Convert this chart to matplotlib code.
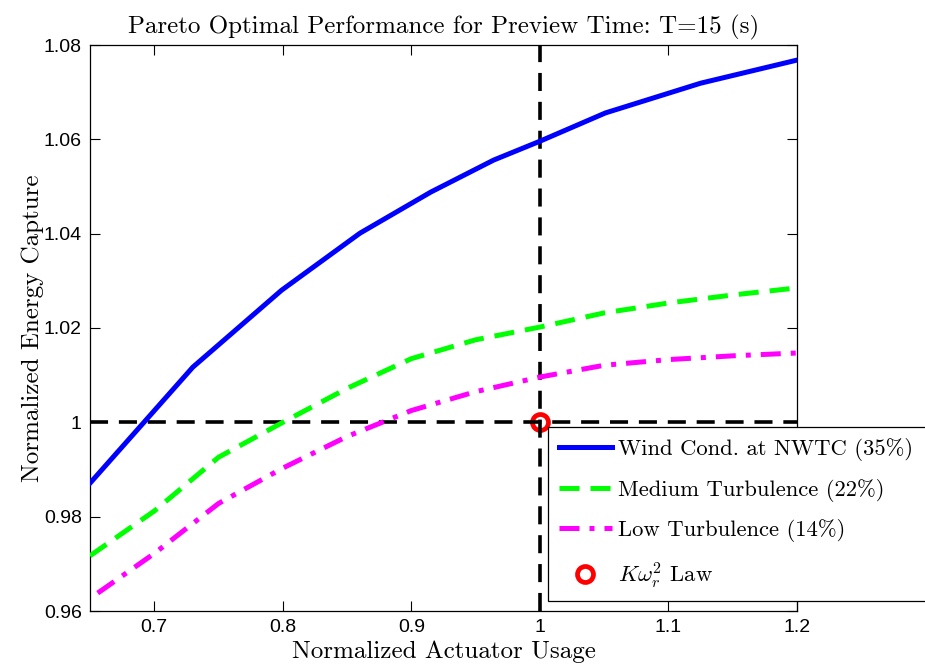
import matplotlib
matplotlib.use("Agg")
import matplotlib.pyplot as plt

plt.rcParams['mathtext.fontset'] = 'cm'
plt.rcParams['axes.unicode_minus'] = False

# data
x_nwtc = [0.65, 0.730, 0.799, 0.860, 0.915, 0.964, 1.0, 1.051, 1.125, 1.2]
y_nwtc = [0.9871, 1.0117, 1.0280, 1.0401, 1.0488, 1.0556, 1.0596, 1.0656, 1.0719, 1.0768]

x_med = [0.65, 0.70, 0.75, 0.80, 0.85, 0.90, 0.95, 1.0, 1.05, 1.10, 1.15, 1.2]
y_med = [0.9717, 0.9812, 0.9926, 1.0, 1.0072, 1.0135, 1.0175, 1.0202, 1.0232, 1.0253, 1.0270, 1.0285]

x_low = [0.656, 0.70, 0.75, 0.80, 0.85, 0.90, 0.95, 1.0, 1.05, 1.10, 1.15, 1.2]
y_low = [0.9638, 0.9722, 0.9828, 0.9903, 0.9970, 1.0025, 1.0065, 1.0096, 1.0121, 1.0133, 1.0141, 1.0147]

law_x = [1.0]
law_y = [1.0]

xticks = [0.7, 0.8, 0.9, 1.0, 1.1, 1.2]
xtick_labels = ['0.7', '0.8', '0.9', '1', '1.1', '1.2']
yticks = [0.96, 0.98, 1.0, 1.02, 1.04, 1.06, 1.08]
ytick_labels = ['0.96', '0.98', '1', '1.02', '1.04', '1.06', '1.08']

labels = ['Wind Cond. at NWTC (35%)', 'Medium Turbulence (22%)',
          'Low Turbulence (14%)', r'$K\omega_r^2$ Law']

fig = plt.figure(figsize=(9.25, 6.66), dpi=100)
ax = fig.add_axes([90/925, 1-611/666, (797-90)/925, (611-45)/666])

# reference lines
ax.plot([0.65, 1.2], [1.0, 1.0], color='black', lw=2.6, dashes=(5, 3), zorder=2)
ax.plot([1.0, 1.0], [0.96, 1.08], color='black', lw=2.6, dashes=(5, 3), zorder=2)

l1, = ax.plot(x_nwtc, y_nwtc, color='#0000ff', lw=3.6, zorder=3)
l2, = ax.plot(x_med, y_med, color='#00ff00', lw=3.6, dashes=(4, 2.2), zorder=3)
l3, = ax.plot(x_low, y_low, color='#ff00ff', lw=3.6, dashes=(4, 2, 1, 2), zorder=3)
l4, = ax.plot(law_x, law_y, 'o', color='red', markerfacecolor='none',
              markeredgewidth=3.4, markersize=11.5, zorder=1)

ax.set_xlim(0.65, 1.2)
ax.set_ylim(0.96, 1.08)
ax.set_xticks(xticks)
ax.set_xticklabels(xtick_labels, fontfamily='Liberation Sans', fontsize=14)
ax.set_yticks(yticks)
ax.set_yticklabels(ytick_labels, fontfamily='Liberation Sans', fontsize=14)
ax.tick_params(direction='in', length=7, width=0.8, top=True, right=True, pad=6)
for s in ax.spines.values():
    s.set_linewidth(0.9)

ax.set_title('Pareto Optimal Performance for Preview Time: T=15 (s)',
             fontfamily='cmr10', fontsize=18, pad=8)
ax.set_xlabel('Normalized Actuator Usage', fontfamily='cmr10', fontsize=18, labelpad=3)
ax.set_ylabel('Normalized Energy Capture', fontfamily='cmr10', fontsize=18, labelpad=0)

leg = ax.legend([l1, l2, l3, l4], labels,
                loc='upper left',
                bbox_to_anchor=(548/925, 1-427/666, (940-548)/925, 0),
                bbox_transform=fig.transFigure, mode='expand',
                borderaxespad=0, fancybox=False, framealpha=1,
                edgecolor='black', numpoints=1, handlelength=2.35,
                handletextpad=0.25, labelspacing=0.78, borderpad=0.48,
                prop={'family': 'cmr10', 'size': 16.3})
leg.get_frame().set_linewidth(0.9)

plt.savefig('out.png', dpi=100)
plt.close()
